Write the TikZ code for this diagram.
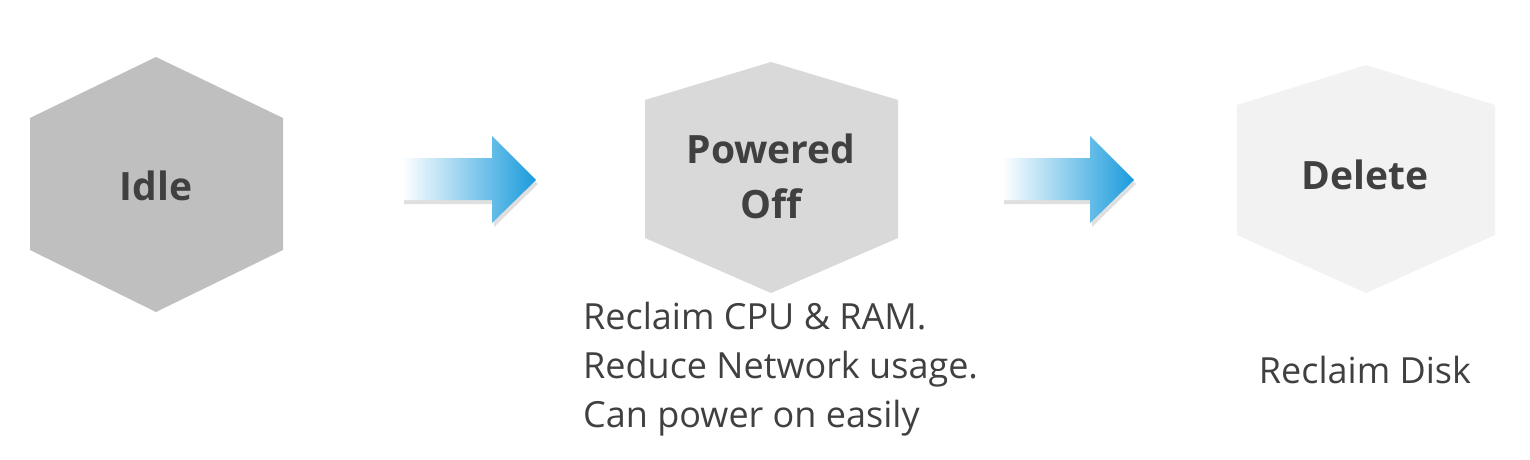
\documentclass[tikz,border=0pt]{standalone}
\usepackage{fontspec}
\setmainfont{Open Sans}
\usetikzlibrary{shadows}
\definecolor{txt}{HTML}{404040}
\definecolor{arrblue}{HTML}{1A9BDC}
\begin{document}
\begin{tikzpicture}[x=1pt,y=-1pt,
  lbl/.style={font=\fontsize{39}{55}\selectfont\bfseries,text=txt,align=center},
  desc/.style={font=\fontsize{36}{49}\selectfont,text=txt,align=left},
  arr/.style={left color=white,right color=arrblue,draw=none,drop shadow={shadow xshift=2pt,shadow yshift=-4pt,opacity=0.25}}]
\useasboundingbox (0,0) rectangle (1530,460);
\fill[fill={rgb,255:red,191;green,191;blue,191}] (156,57) -- (283,118) -- (283,250) -- (156,312) -- (30,250) -- (30,118) -- cycle;
\fill[fill={rgb,255:red,217;green,217;blue,217}] (771,62) -- (898,100) -- (898,238) -- (771,293) -- (645,238) -- (645,100) -- cycle;
\fill[fill={rgb,255:red,242;green,242;blue,242}] (1366,65) -- (1495,105) -- (1495,235) -- (1366,293) -- (1237,235) -- (1237,105) -- cycle;
\node[lbl] (idle) at (156,186) {Idle};
\node[lbl] (off) at (771,176) {Powered\\Off};
\node[lbl] (del) at (1365,175) {Delete};
\shade[arr] (402,158) -- (492,158) -- (492,136) -- (536,180) -- (492,223) -- (492,200) -- (402,200) -- cycle;
\shade[arr] (1002,158) -- (1090,158) -- (1090,136) -- (1134,180) -- (1090,223) -- (1090,200) -- (1002,200) -- cycle;
\node[desc,anchor=north west,inner sep=0pt] (d1) at (583,302) {Reclaim CPU \& RAM.\\Reduce Network usage.\\Can power on easily};
\node[desc] (d2) at (1365,370) {Reclaim Disk};
\end{tikzpicture}
\end{document}
